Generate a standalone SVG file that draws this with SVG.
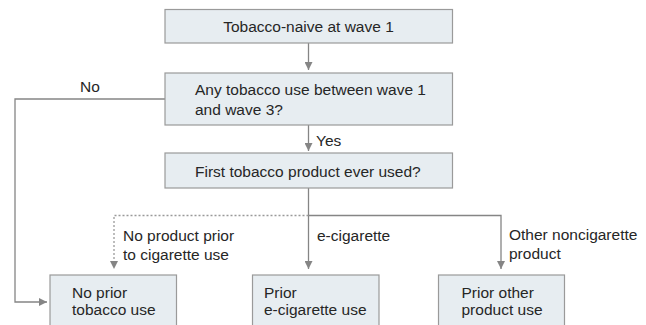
<svg xmlns="http://www.w3.org/2000/svg" width="646" height="325" viewBox="0 0 646 325">
<style>
.box{fill:#e7edf1;stroke:#9a9a9a;stroke-width:1.2}
.t{font-family:"Liberation Sans",Arial,sans-serif;font-size:15.5px;fill:#262626}
.c{text-anchor:middle}
.ln{fill:none;stroke:#858585;stroke-width:1.3}
.dot{fill:none;stroke:#9a9a9a;stroke-width:1.3;stroke-dasharray:2 2}
</style>
<defs>
<marker id="ah" viewBox="0 0 8 8" refX="8" refY="4" markerWidth="8" markerHeight="8" markerUnits="userSpaceOnUse" orient="auto">
<path d="M0,0 L8,4 L0,8 Z" fill="#858585"/>
</marker>
</defs>
<rect width="646" height="325" fill="#ffffff"/>
<g id="connectors">
<line class="ln" x1="308.5" y1="43" x2="308.5" y2="70" marker-end="url(#ah)"/>
<line class="ln" x1="308.5" y1="125" x2="308.5" y2="151" marker-end="url(#ah)"/>
<polyline class="ln" points="165,99 15,99 15,302 47,302" marker-end="url(#ah)"/>
<line class="ln" x1="308.5" y1="188" x2="308.5" y2="269" marker-end="url(#ah)"/>
<polyline class="ln" points="308.5,215.5 501,215.5 501,269" marker-end="url(#ah)"/>
<polyline class="dot" points="308.5,215.5 114,215.5 114,269" marker-end="url(#ah)"/>
<text class="t" x="80" y="91.5">No</text>
<text class="t" x="316" y="146">Yes</text>
<text class="t" x="123" y="240.5">No product prior</text>
<text class="t" x="123" y="259.5">to cigarette use</text>
<text class="t" x="317" y="240.5">e-cigarette</text>
<text class="t" x="509" y="240">Other noncigarette</text>
<text class="t" x="509" y="259">product</text>
</g>
<g id="n1">
<rect class="box" x="165" y="9.5" width="287.5" height="33.5"/>
<text class="t c" x="308.5" y="31.5">Tobacco-naive at wave 1</text>
</g>
<g id="n2">
<rect class="box" x="165" y="73" width="287.5" height="52"/>
<text class="t" x="195" y="95">Any tobacco use between wave 1</text>
<text class="t" x="195" y="114.5">and wave 3?</text>
</g>
<g id="n3">
<rect class="box" x="165" y="153" width="287.5" height="35"/>
<text class="t" x="195" y="177">First tobacco product ever used?</text>
</g>
<g id="n4">
<rect class="box" x="50" y="275" width="126.5" height="60"/>
<text class="t" x="72" y="298">No prior</text>
<text class="t" x="72" y="315">tobacco use</text>
</g>
<g id="n5">
<rect class="box" x="252.5" y="275" width="126.5" height="60"/>
<text class="t" x="264" y="298">Prior</text>
<text class="t" x="264" y="315">e-cigarette use</text>
</g>
<g id="n6">
<rect class="box" x="438.5" y="275" width="126" height="60"/>
<text class="t" x="461.5" y="298">Prior other</text>
<text class="t" x="461.5" y="315">product use</text>
</g>
</svg>
